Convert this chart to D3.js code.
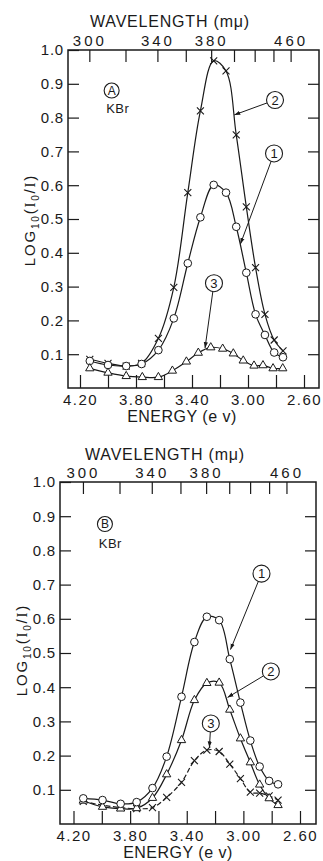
<!DOCTYPE html>
<html>
<head>
<meta charset="utf-8">
<script src="https://cdnjs.cloudflare.com/ajax/libs/d3/7.8.5/d3.min.js"></script>
<style>
  body { margin: 0; background: #fff; }
  svg text { font-family: "Liberation Sans", Arial, sans-serif; fill: #1a1a1a; }
</style>
</head>
<body>
<svg id="chart" width="323" height="861"></svg>
<script>
// ---- data ----
var energyTicks  = [4.2, 4.0, 3.8, 3.6, 3.4, 3.2, 3.0, 2.8, 2.6];
var energyLabels = [4.2, 3.8, 3.4, 3.0, 2.6];
var waveTicks    = [300, 320, 340, 360, 380, 400, 420, 440, 460];
var waveLabels   = [300, 340, 380, 460];
var yTicks       = [0.1, 0.2, 0.3, 0.4, 0.5, 0.6, 0.7, 0.8, 0.9, 1.0];

// panel A (KBr)
var energyA  = [4.13, 4.00, 3.87, 3.76, 3.64, 3.53, 3.43, 3.34, 3.245, 3.157, 3.084, 3.012, 2.946, 2.879, 2.813, 2.75];
var energyA3 = [4.13, 4.00, 3.87, 3.755, 3.64, 3.54, 3.44, 3.355, 3.266, 3.181, 3.105, 3.034, 2.957, 2.893, 2.821, 2.752];
var logA1 = [0.080, 0.068, 0.065, 0.071, 0.112, 0.206, 0.369, 0.505, 0.601, 0.578, 0.477, 0.341, 0.218, 0.157, 0.105, 0.091];
var logA2 = [0.085, 0.073, 0.065, 0.073, 0.147, 0.298, 0.578, 0.820, 0.968, 0.938, 0.749, 0.536, 0.356, 0.218, 0.142, 0.110];
var logA3 = [0.058, 0.045, 0.035, 0.032, 0.032, 0.051, 0.078, 0.104, 0.120, 0.116, 0.102, 0.081, 0.066, 0.067, 0.058, 0.058];

// panel B (KBr)
var energyB = [4.131, 3.995, 3.867, 3.754, 3.642, 3.542, 3.437, 3.346, 3.258, 3.171, 3.096, 3.021, 2.951, 2.885, 2.818, 2.755];
var logB1 = [0.075, 0.070, 0.059, 0.064, 0.105, 0.197, 0.372, 0.532, 0.606, 0.596, 0.482, 0.355, 0.244, 0.168, 0.126, 0.116];
var logB2 = [0.068, 0.050, 0.045, 0.046, 0.076, 0.145, 0.245, 0.362, 0.412, 0.413, 0.334, 0.250, 0.180, 0.115, 0.075, 0.055];
var logB3 = [0.066, 0.055, 0.048, 0.045, 0.048, 0.078, 0.122, 0.185, 0.216, 0.212, 0.175, 0.133, 0.093, 0.090, 0.082, 0.070];

// callouts: label, circle (energy, log), arrow tip (energy, log)
var calloutsA = [["2", 2.807, 0.852, 3.098, 0.808],
                 ["1", 2.814, 0.694, 3.054, 0.426],
                 ["3", 3.243, 0.310, 3.307, 0.118]];
var calloutsB = [["1", 2.872, 0.732, 3.091, 0.510],
                 ["2", 2.806, 0.446, 3.112, 0.370],
                 ["3", 3.230, 0.294, 3.240, 0.224]];

var ink = "#1a1a1a";
var svg = d3.select("#chart");

svg.append("defs").append("marker")
    .attr("id", "arr")
    .attr("viewBox", "0 0 10 10")
    .attr("refX", 10).attr("refY", 5)
    .attr("markerWidth", 6).attr("markerHeight", 6)
    .attr("orient", "auto")
  .append("path")
    .attr("d", "M0,1.5L10,5L0,8.5Z")
    .attr("fill", ink);

var panels = [
  { letter: "A", left: 68, right: 319, top: 50, bottom: 388, xr: [80, 304],
    waveTitle: [170, 27], energyTitle: [182, 422], yTitle: [35, 220],
    tag: [3.974, 0.880], kbr: [3.93, 0.814],
    series: [
      { e: energyA,  v: logA2, mark: "cross" },
      { e: energyA,  v: logA1, mark: "circle" },
      { e: energyA3, v: logA3, mark: "triangle" }
    ],
    callouts: calloutsA },
  { letter: "B", left: 60, right: 316, top: 482, bottom: 824, xr: [73.5, 300],
    waveTitle: [165, 460], energyTitle: [178, 858], yTitle: [27, 650],
    tag: [3.978, 0.877], kbr: [3.94, 0.808],
    series: [
      { e: energyB, v: logB3, mark: "cross", dash: "5,2.5" },
      { e: energyB, v: logB2, mark: "triangle" },
      { e: energyB, v: logB1, mark: "circle" }
    ],
    callouts: calloutsB }
];

panels.forEach(drawPanel);

function drawPanel(p) {
  var x = d3.scaleLinear().domain([4.2, 2.6]).range(p.xr);
  var y = d3.scaleLinear().domain([0, 1]).range([p.bottom, p.top]);
  var g = svg.append("g");

  // frame
  g.append("rect")
    .attr("x", p.left).attr("y", p.top)
    .attr("width", p.right - p.left).attr("height", p.bottom - p.top)
    .attr("fill", "none").attr("stroke", ink).attr("stroke-width", 1.5);

  // bottom energy axis
  var gx = g.append("g")
      .attr("transform", "translate(0," + p.bottom + ")")
      .call(d3.axisBottom(x).tickValues(energyTicks)
        .tickSizeInner(-13).tickSizeOuter(0).tickPadding(6)
        .tickFormat(function(d) { return energyLabels.indexOf(d) >= 0 ? d3.format(".2f")(d) : ""; }));
  styleAxis(gx, 1.5);

  // top wavelength axis (energy = 1240 / wavelength)
  var gt = g.append("g")
      .attr("transform", "translate(0," + p.top + ")")
      .call(d3.axisTop(x).tickValues(waveTicks.map(function(w) { return 1240 / w; }))
        .tickSizeInner(-12).tickSizeOuter(0).tickPadding(4)
        .tickFormat(function(d, i) { return waveLabels.indexOf(waveTicks[i]) >= 0 ? waveTicks[i] : ""; }));
  styleAxis(gt, 3);

  // left + right axes
  var gl = g.append("g")
      .attr("transform", "translate(" + p.left + ",0)")
      .call(d3.axisLeft(y).tickValues(yTicks)
        .tickSizeInner(-11).tickSizeOuter(0).tickPadding(4)
        .tickFormat(d3.format(".1f")));
  styleAxis(gl, 0.8);

  var gr = g.append("g")
      .attr("transform", "translate(" + p.right + ",0)")
      .call(d3.axisRight(y).tickValues(yTicks.slice(0, 9))
        .tickSizeInner(-11).tickSizeOuter(0).tickFormat(""));
  styleAxis(gr, 0);

  // titles
  g.append("text")
    .attr("x", p.waveTitle[0]).attr("y", p.waveTitle[1])
    .attr("text-anchor", "middle").attr("font-size", 16).attr("letter-spacing", 0.8)
    .text("WAVELENGTH (m\u03bc)");

  g.append("text")
    .attr("x", p.energyTitle[0]).attr("y", p.energyTitle[1])
    .attr("text-anchor", "middle").attr("font-size", 16).attr("letter-spacing", 0.5)
    .text("ENERGY (e v)");

  var yt = g.append("text")
    .attr("transform", "translate(" + p.yTitle[0] + "," + p.yTitle[1] + ") rotate(-90)")
    .attr("text-anchor", "middle").attr("font-size", 15).attr("letter-spacing", 1.8);
  yt.append("tspan").text("LOG");
  yt.append("tspan").attr("font-size", 10).attr("dy", 4).text("10");
  yt.append("tspan").attr("dy", -4).text("(");
  yt.append("tspan").style("font-family", "'Liberation Serif', serif").text("I");
  yt.append("tspan").attr("font-size", 10).attr("dy", 4).text("0");
  yt.append("tspan").attr("dy", -4).text("/");
  yt.append("tspan").style("font-family", "'Liberation Serif', serif").text("I");
  yt.append("tspan").text(")");

  // curves
  var line = d3.line()
      .x(function(d) { return x(d[0]); })
      .y(function(d) { return y(d[1]); })
      .curve(d3.curveCatmullRom.alpha(0.5));

  p.series.forEach(function(s) {
    var pts = s.e.map(function(e, i) { return [e, s.v[i]]; });
    g.append("path")
      .attr("d", line(pts))
      .attr("fill", "none").attr("stroke", ink).attr("stroke-width", 1.2)
      .attr("stroke-dasharray", s.dash || null);
    drawMarkers(g, pts, s.mark, x, y);
  });

  // panel tag and crystal
  g.append("circle")
    .attr("cx", x(p.tag[0])).attr("cy", y(p.tag[1])).attr("r", 7.5)
    .attr("fill", "#fff").attr("stroke", ink).attr("stroke-width", 1.1);
  g.append("text")
    .attr("x", x(p.tag[0])).attr("y", y(p.tag[1])).attr("dy", "0.36em")
    .attr("text-anchor", "middle").attr("font-size", 12).text(p.letter);
  g.append("text")
    .attr("x", x(p.kbr[0])).attr("y", y(p.kbr[1]))
    .attr("text-anchor", "middle").attr("font-size", 13).attr("letter-spacing", 0.5).text("KBr");

  // numbered callouts
  p.callouts.forEach(function(c) {
    var cx = x(c[1]), cy = y(c[2]), tx = x(c[3]), ty = y(c[4]);
    var dx = tx - cx, dy = ty - cy, len = Math.sqrt(dx * dx + dy * dy), r = 8.5;
    g.append("line")
      .attr("x1", cx + dx / len * r).attr("y1", cy + dy / len * r)
      .attr("x2", tx).attr("y2", ty)
      .attr("stroke", ink).attr("stroke-width", 1)
      .attr("marker-end", "url(#arr)");
    g.append("circle")
      .attr("cx", cx).attr("cy", cy).attr("r", r)
      .attr("fill", "#fff").attr("stroke", ink).attr("stroke-width", 1.1);
    g.append("text")
      .attr("x", cx).attr("y", cy).attr("dy", "0.36em")
      .attr("text-anchor", "middle").attr("font-size", 13).text(c[0]);
  });
}

function styleAxis(sel, spacing) {
  sel.attr("font-size", 15).attr("font-family", null);
  sel.select(".domain").remove();
  sel.selectAll(".tick line").attr("stroke", ink).attr("stroke-width", 1.2);
  sel.selectAll(".tick text").attr("fill", ink).attr("letter-spacing", spacing);
}

function drawMarkers(g, pts, type, x, y) {
  var sel = g.append("g").selectAll("path").data(pts).enter().append("path")
      .attr("transform", function(d) { return "translate(" + x(d[0]) + "," + y(d[1]) + ")"; })
      .attr("stroke", ink).attr("stroke-width", 1);
  if (type === "circle") {
    sel.attr("d", d3.symbol().type(d3.symbolCircle).size(46)).attr("fill", "#fff");
  } else if (type === "triangle") {
    sel.attr("d", d3.symbol().type(d3.symbolTriangle).size(30)).attr("fill", "#fff");
  } else {
    sel.attr("d", "M-3.5,-3.5L3.5,3.5M-3.5,3.5L3.5,-3.5").attr("fill", "none").attr("stroke-width", 1.1);
  }
}
</script>
</body>
</html>
